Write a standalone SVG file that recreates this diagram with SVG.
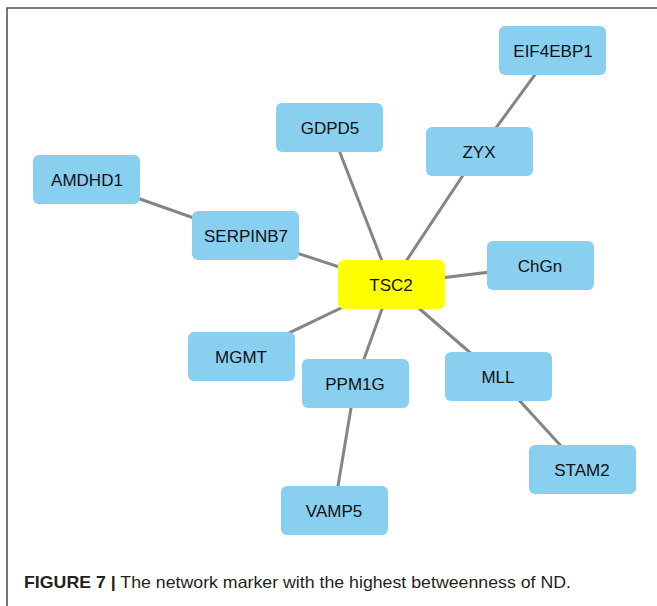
<svg xmlns="http://www.w3.org/2000/svg" width="657" height="606" viewBox="0 0 657 606">
<style>
.frame{stroke:#4a4a4a;stroke-width:1.5;fill:none}
.edge{stroke:#858585;stroke-width:3;stroke-linecap:butt}
.node rect{fill:#89CFF0;rx:6;ry:6}
#TSC2 rect{fill:#FFFF00}
.node text{font-family:"Liberation Sans",Arial,sans-serif;font-size:17px;fill:#111;text-anchor:middle;dominant-baseline:central}
.cap{font-family:"Liberation Sans",Arial,sans-serif;font-size:16.5px;fill:#231f20}
</style>
<rect width="657" height="606" fill="#fff"/>
<path class="frame" d="M7,606 V8 H657"/>
<g id="edges">
<line class="edge" x1="553" y1="50" x2="479" y2="151"/>
<line class="edge" x1="479" y1="151" x2="391" y2="284"/>
<line class="edge" x1="330" y1="127" x2="391" y2="284"/>
<line class="edge" x1="86" y1="180" x2="245" y2="236"/>
<line class="edge" x1="245" y1="236" x2="391" y2="284"/>
<line class="edge" x1="540" y1="266" x2="391" y2="284"/>
<line class="edge" x1="241" y1="356" x2="391" y2="284"/>
<line class="edge" x1="355" y1="384" x2="391" y2="284"/>
<line class="edge" x1="497" y1="376" x2="391" y2="284"/>
<line class="edge" x1="497" y1="376" x2="582" y2="469"/>
<line class="edge" x1="355" y1="384" x2="334" y2="510"/>
</g>
<g id="EIF4EBP1" class="node"><rect x="499" y="26" width="107" height="49"/><text x="553" y="51">EIF4EBP1</text></g>
<g id="GDPD5" class="node"><rect x="276" y="103" width="107" height="49"/><text x="330" y="128">GDPD5</text></g>
<g id="ZYX" class="node"><rect x="426" y="127" width="107" height="49"/><text x="479" y="152">ZYX</text></g>
<g id="AMDHD1" class="node"><rect x="33" y="155" width="107" height="49"/><text x="87" y="180">AMDHD1</text></g>
<g id="SERPINB7" class="node"><rect x="192" y="211" width="107" height="49"/><text x="246" y="236">SERPINB7</text></g>
<g id="ChGn" class="node"><rect x="487" y="241" width="107" height="49"/><text x="540" y="266">ChGn</text></g>
<g id="TSC2" class="node"><rect x="338" y="260" width="107" height="49"/><text x="391" y="285">TSC2</text></g>
<g id="MGMT" class="node"><rect x="188" y="332" width="107" height="49"/><text x="241" y="357">MGMT</text></g>
<g id="PPM1G" class="node"><rect x="302" y="359" width="107" height="49"/><text x="355" y="384">PPM1G</text></g>
<g id="MLL" class="node"><rect x="445" y="352" width="107" height="49"/><text x="498" y="377">MLL</text></g>
<g id="STAM2" class="node"><rect x="529" y="445" width="107" height="49"/><text x="582" y="470">STAM2</text></g>
<g id="VAMP5" class="node"><rect x="281" y="486" width="107" height="49"/><text x="334" y="511">VAMP5</text></g>
<text class="cap" x="24" y="588" textLength="547" lengthAdjust="spacingAndGlyphs"><tspan font-weight="bold">FIGURE 7 |</tspan> The network marker with the highest betweenness of ND.</text>
</svg>
